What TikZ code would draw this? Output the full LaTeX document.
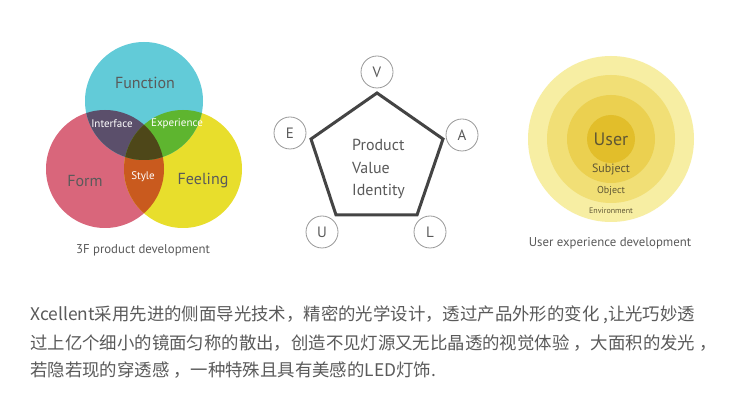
\documentclass[tikz,border=0pt]{standalone}
\usepackage{fontspec}
\setmainfont{PT Sans}
\newfontfamily\cjk{Noto Sans CJK SC}
\definecolor{fnc}{HTML}{62CBD8}
\definecolor{frm}{HTML}{D9667B}
\definecolor{fel}{HTML}{E8DE2C}
\definecolor{itf}{HTML}{5B4F6B}
\definecolor{exp}{HTML}{5EB52F}
\definecolor{sty}{HTML}{C95A1E}
\definecolor{tri}{HTML}{4E4719}
\definecolor{txt}{HTML}{5A5A5A}
\definecolor{ringA}{HTML}{F7EEA3}
\definecolor{ringB}{HTML}{F1DF76}
\definecolor{ringC}{HTML}{EBD050}
\definecolor{ringD}{HTML}{E2BE2A}
\definecolor{ringtxt}{HTML}{5F5634}
\definecolor{pent}{HTML}{444444}
\tikzset{
  lbl/.style={text=txt, inner sep=0pt, font=\fontsize{16}{18}\selectfont},
  wlbl/.style={text=white, inner sep=0pt, font=\fontsize{11}{13}\selectfont},
  captxt/.style={text=txt, inner sep=0pt, font=\fontsize{12.8}{14}\selectfont},
  letter/.style={circle, draw=gray!80, line width=0.8pt, minimum size=32pt, inner sep=0pt, text=txt, font=\fontsize{15}{17}\selectfont},
  pentedge/.style={draw=pent, line width=3pt, line join=miter},
  para/.style={text=txt, inner sep=0pt, anchor=base west, font=\cjk\fontsize{17.4}{20}\selectfont}
}
\begin{document}
\begin{tikzpicture}[x=1pt,y=-1pt]
\useasboundingbox (0,0) rectangle (750,419);
\fill[white] (0,0) rectangle (750,419);
% ---- Venn ----
\coordinate (cF) at (144,101);
\coordinate (cM) at (105,169);
\coordinate (cL) at (183,169);
\fill[frm] (cM) circle[radius=59pt];
\fill[fel] (cL) circle[radius=59pt];
\fill[fnc] (cF) circle[radius=59pt];
\begin{scope}
  \clip (cM) circle[radius=59pt];
  \fill[sty] (cL) circle[radius=59pt];
  \fill[itf] (cF) circle[radius=59pt];
\end{scope}
\begin{scope}
  \clip (cL) circle[radius=59pt];
  \fill[exp] (cF) circle[radius=59pt];
  \clip (cM) circle[radius=59pt];
  \fill[tri] (cF) circle[radius=59pt];
\end{scope}
\node[lbl] (function) at (145,83) {Function};
\node[lbl] (form) at (85,181) {Form};
\node[lbl] (feeling) at (203,181) {Feeling};
\node[wlbl] (interface) at (112,124) {Interface};
\node[wlbl] (experience) at (177,124) {Experience};
\node[wlbl] (style) at (143,177) {Style};
\node[captxt] (cap1) at (143,250) {3F product development};
% ---- Pentagon ----
\coordinate (pV) at (377,93);
\coordinate (pA) at (443,139);
\coordinate (pL) at (417,215);
\coordinate (pU) at (336,215);
\coordinate (pE) at (311,139);
\draw[pentedge] (pV) -- (pA) -- (pL) -- (pU) -- (pE) -- cycle;
\node[letter] (V) at (377,72) {V};
\node[letter] (A) at (462,135) {A};
\node[letter] (L) at (430,232) {L};
\node[letter] (U) at (322,232) {U};
\node[letter] (E) at (290,133) {E};
\node[text=txt, inner sep=0pt, align=left, anchor=north west, font=\fontsize{16}{22.5}\selectfont] (pvi) at (352,139) {Product\\Value\\Identity};
% ---- Rings ----
\coordinate (rc) at (611,139);
\fill[ringA] (rc) circle[radius=83pt];
\fill[ringB] (rc) circle[radius=64pt];
\fill[ringC] (rc) circle[radius=44pt];
\fill[ringD] (rc) circle[radius=24pt];
\node[text=ringtxt, inner sep=0pt, font=\fontsize{18}{20}\selectfont] (user) at (611,139) {User};
\node[text=ringtxt, inner sep=0pt, font=\fontsize{12}{14}\selectfont] (subject) at (611,170) {Subject};
\node[text=ringtxt, inner sep=0pt, font=\fontsize{10}{12}\selectfont] (object) at (611,191) {Object};
\node[text=ringtxt, inner sep=0pt, font=\fontsize{8}{10}\selectfont] (env) at (611,211) {Environment};
\node[captxt] (cap3) at (610,243) {User experience development};
% ---- Paragraph ----
\node[para] (l1) at (30,321) {Xcellent采用先进的侧面导光技术，精密的光学设计，透过产品外形的变化 ,让光巧妙透};
\node[para] (l2) at (30,350) {过上亿个细小的镜面匀称的散出，创造不见灯源又无比晶透的视觉体验 ，大面积的发光 ，};
\node[para] (l3) at (30,377) {若隐若现的穿透感 ，一种特殊且具有美感的LED灯饰.};
\end{tikzpicture}
\end{document}
